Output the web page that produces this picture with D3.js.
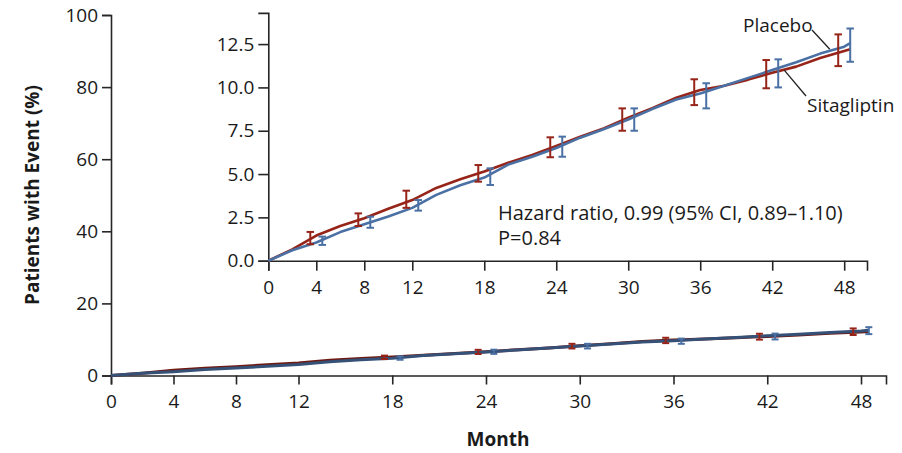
<!DOCTYPE html>
<html><head><meta charset="utf-8">
<script src="https://cdn.jsdelivr.net/npm/d3@7"></script>
<style>
html,body{margin:0;padding:0;background:#fff;}
svg{display:block;font-family:"Open Sans",sans-serif;}
</style></head>
<body><svg id="c" width="902" height="453"></svg>
<script>
// ---- data ----
const curveMonths = [0,2,4,6,8,10,12,14,16,18,20,22,24,26,28,30,32,34,36,38,40,42,44,46,48,48.5];
const sitagliptinPct = [0,0.65,1.45,2.0,2.45,3.0,3.5,4.2,4.7,5.15,5.65,6.1,6.62,7.15,7.65,8.25,8.8,9.4,9.85,10.1,10.45,10.85,11.2,11.7,12.1,12.2];
const placeboPct     = [0,0.6,1.05,1.65,2.1,2.55,3.05,3.8,4.35,4.8,5.55,6.0,6.5,7.1,7.6,8.15,8.75,9.3,9.65,10.1,10.55,11.0,11.45,11.95,12.35,12.55];
const ciMonths = [4,8,12,18,24,30,36,42,48];
const sitagliptinLow  = [0.95,2.0,3.05,4.56,5.97,7.5,8.98,9.95,11.23];
const sitagliptinHigh = [1.66,2.73,4.04,5.52,7.12,8.79,10.47,11.58,13.06];
const placeboLow  = [0.91,1.9,2.89,4.37,6.0,7.5,8.79,10.0,11.48];
const placeboHigh = [1.39,2.54,3.5,5.33,7.16,8.79,10.24,11.62,13.4];
const xTicks = [0,4,8,12,18,24,30,36,42,48];
const mainYTicks = [0,20,40,60,80,100];
const insetYTicks = [0,2.5,5.0,7.5,10.0,12.5];
const seriesNames = ["Sitagliptin","Placebo"];
const annotation = ["Hazard ratio, 0.99 (95% CI, 0.89\u20131.10)","P=0.84"];

const RED = "#962419", BLUE = "#4a70a4", AX = "#262626";
const svg = d3.select("#c");

const series = [
  {name:seriesNames[0], vals:sitagliptinPct, low:sitagliptinLow, high:sitagliptinHigh, color:RED, dodge:-0.5},
  {name:seriesNames[1], vals:placeboPct, low:placeboLow, high:placeboHigh, color:BLUE, dodge:0.5}
];

function panel(g, x, y, yTicks, yFmt, lw, capW, tickLen, minCiMonth, darken){
  const xa = d3.axisBottom(x).tickValues(xTicks).tickSizeOuter(0).tickSize(tickLen).tickPadding(5).tickFormat(d3.format("d"));
  const ya = d3.axisLeft(y).tickValues(yTicks).tickSizeOuter(0).tickSize(tickLen).tickPadding(4).tickFormat(yFmt);
  const gx = g.append("g").attr("transform",`translate(0,${y(0)})`).call(xa);
  const gy = g.append("g").attr("transform",`translate(${x(0)},0)`).call(ya);
  [gx,gy].forEach(a=>{
    a.selectAll("path,line").attr("stroke",AX).attr("stroke-width",1.6);
    a.selectAll("text").attr("fill","#1a1a1a").style("font-size","19px").style("font-family","Open Sans");
  });
  gx.selectAll("text").attr("dy","0.95em");
  series.forEach(s=>{
    const line = d3.line().x((d,i)=>x(curveMonths[i])).y(d=>y(d));
    g.append("path").datum(s.vals).attr("d",line).attr("fill","none")
      .attr("stroke",d3.color(s.color).darker(darken).formatHex()).attr("stroke-width",lw).attr("stroke-linejoin","round");
  });
  series.forEach(s=>{
    const eg = g.append("g").attr("stroke",s.color).attr("stroke-width",2);
    ciMonths.forEach((m,i)=>{
      if (m < minCiMonth) return;
      const cx = x(m+s.dodge);
      eg.append("line").attr("x1",cx).attr("x2",cx).attr("y1",y(s.low[i])).attr("y2",y(s.high[i]));
      eg.append("line").attr("x1",cx-capW/2).attr("x2",cx+capW/2).attr("y1",y(s.low[i])).attr("y2",y(s.low[i]));
      eg.append("line").attr("x1",cx-capW/2).attr("x2",cx+capW/2).attr("y1",y(s.high[i])).attr("y2",y(s.high[i]));
    });
  });
}

// main panel
const mx = d3.scaleLinear().domain([0,49.6]).range([111,886]);
const my = d3.scaleLinear().domain([0,100]).range([375.5,15]);
panel(svg.append("g"), mx, my, mainYTicks, d3.format("d"), 3, 7, 9, 18, 0.9);

// inset
const ix = d3.scaleLinear().domain([0,49.9]).range([268.3,867]);
const iy = d3.scaleLinear().domain([0,14.3]).range([260.7,12.9]);
panel(svg.append("g"), ix, iy, insetYTicks, d3.format(".1f"), 2.6, 7.5, 10, 0, 0);

// axis titles
svg.append("text").attr("x",498).attr("y",446).attr("text-anchor","middle")
  .style("font-size","19px").style("font-weight","bold").attr("fill","#1a1a1a").text("Month");
svg.append("text").attr("transform","translate(39,195) rotate(-90)").attr("text-anchor","middle")
  .style("font-size","19px").style("font-weight","bold").attr("fill","#1a1a1a").text("Patients with Event (%)");

// annotation
svg.append("text").attr("x",498).attr("y",220).style("font-size","20px").attr("fill","#1a1a1a").text(annotation[0]);
svg.append("text").attr("x",498).attr("y",245).style("font-size","20px").attr("fill","#1a1a1a").text(annotation[1]);

// series labels with leaders
const lab = [
  {t:seriesNames[1], x:743, y:32, lx1:812, ly1:30, m:46.8, v:12.2},
  {t:seriesNames[0], x:807, y:112, lx1:806, ly1:96, m:43.0, v:11.0}
];
lab.forEach(l=>{
  svg.append("text").attr("x",l.x).attr("y",l.y).style("font-size","19px").attr("fill","#1a1a1a").text(l.t);
  svg.append("line").attr("x1",l.lx1).attr("y1",l.ly1).attr("x2",ix(l.m)).attr("y2",iy(l.v)).attr("stroke","#222").attr("stroke-width",1.3);
});
</script></body></html>
